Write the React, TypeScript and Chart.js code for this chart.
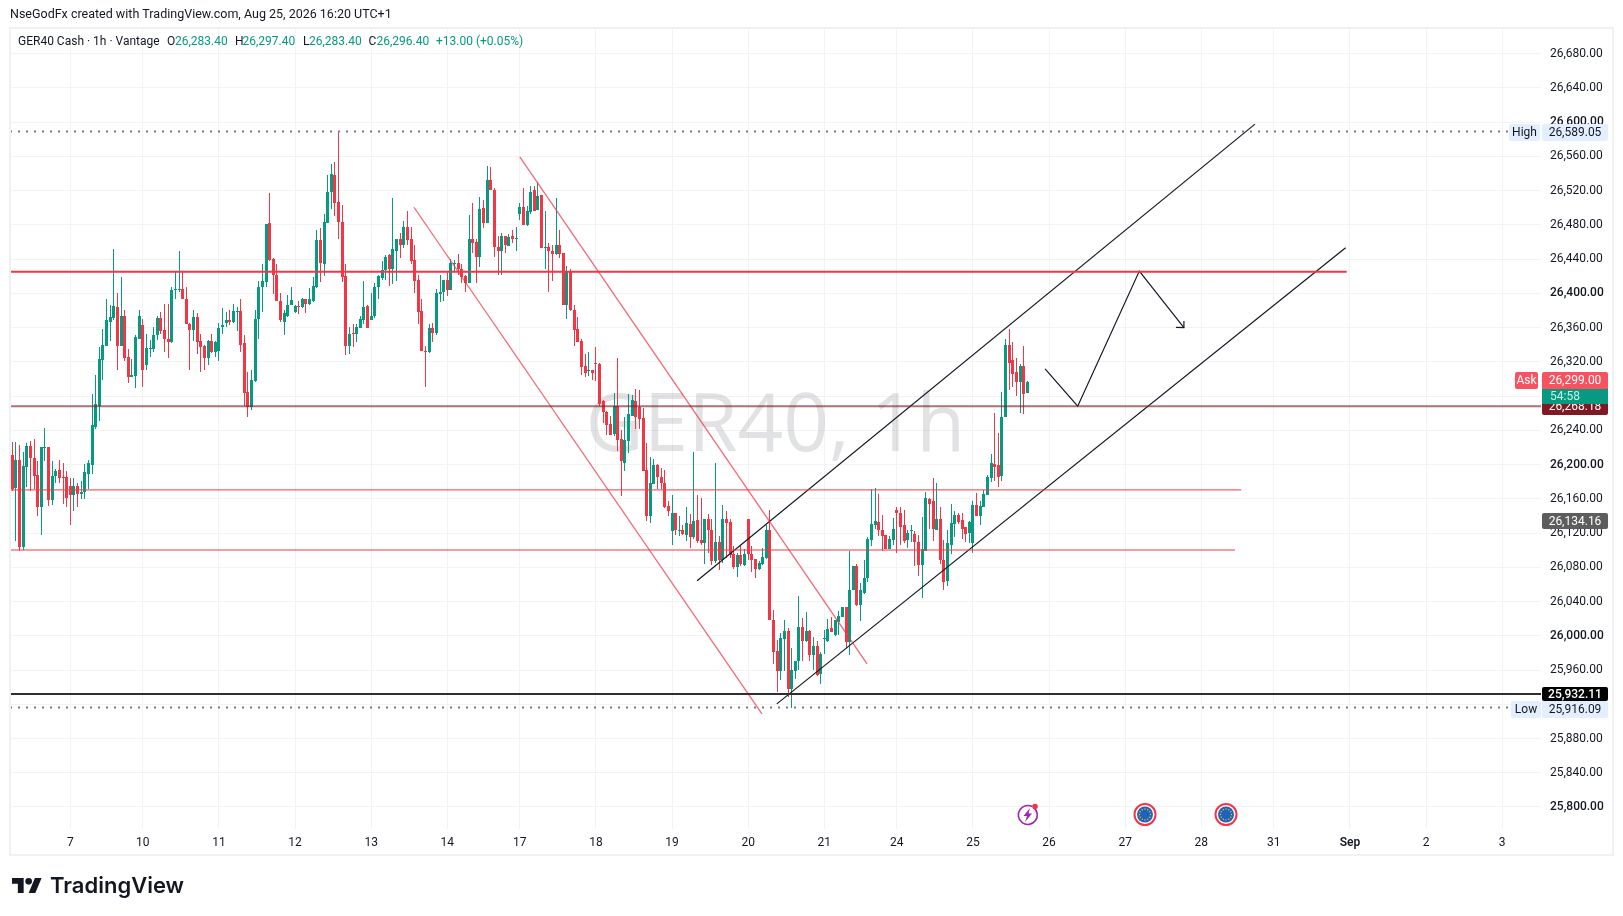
import React, { useEffect, useRef } from "react";
import { Chart, registerables } from "chart.js";

Chart.register(...registerables);

const opens = [
  26211,26173,26205,26104,26197,26222,26208,26188,26150,26219,
  26220,26159,26187,26194,26185,26185,26175,26164,26175,26166,
  26168,26189,26199,26244,26269,26322,26339,26366,26371,26384,
  26339,26374,26326,26302,26304,26347,26363,26316,26335,26335,
  26351,26371,26357,26347,26343,26404,26404,26405,26394,26364,
  26357,26372,26344,26338,26325,26344,26331,26333,26361,26365,
  26369,26366,26378,26379,26342,26285,26267,26298,26370,26407,
  26413,26482,26440,26422,26391,26367,26374,26386,26378,26385,
  26384,26393,26388,26391,26408,26462,26434,26482,26519,26538,
  26507,26483,26420,26339,26353,26352,26360,26369,26385,26369,
  26374,26407,26418,26427,26445,26429,26449,26463,26457,26477,
  26463,26439,26416,26379,26333,26331,26360,26354,26399,26402,
  26416,26404,26434,26435,26429,26420,26412,26464,26460,26443,
  26500,26482,26532,26521,26454,26450,26467,26455,26467,26463,
  26493,26501,26480,26495,26521,26497,26515,26453,26454,26450,
  26446,26457,26447,26387,26425,26380,26358,26344,26315,26309,
  26311,26319,26318,26274,26262,26247,26236,26268,26230,26202,
  26228,26257,26274,26267,26254,26194,26140,26177,26199,26186,
  26179,26152,26122,26143,26122,26124,26118,26131,26115,26135,
  26112,26108,26137,26124,26087,26110,26089,26136,26133,26095,
  26080,26094,26083,26136,26096,26090,26078,26084,26091,26124,
  26019,25982,25959,25996,26006,25938,25959,25970,26010,25994,
  26006,25978,25988,25955,25996,25994,26009,26001,26016,26022,
  26034,25993,26053,26081,26036,26050,26067,26112,26130,26133,
  26124,26118,26101,26112,26147,26144,26129,26112,26122,26119,
  26110,26083,26099,26160,26157,26124,26137,26089,26064,26106,
  26131,26141,26135,26127,26120,26108,26153,26140,26151,26165,
  26184,26201,26199,26187,26255,26340,26322,26308,26297,26315,26283.4,
];
const closes = [
  26172,26205,26104,26198,26222,26208,26187,26150,26220,26220,
  26159,26187,26193,26184,26184,26161,26164,26175,26166,26168,
  26191,26202,26246,26271,26323,26340,26369,26372,26385,26339,
  26374,26325,26302,26305,26349,26374,26311,26336,26336,26351,
  26371,26356,26347,26343,26404,26405,26405,26393,26364,26357,
  26372,26343,26337,26325,26344,26332,26343,26359,26363,26369,
  26367,26379,26379,26340,26284,26267,26299,26370,26408,26414,
  26481,26439,26421,26391,26369,26377,26387,26392,26385,26384,
  26393,26388,26393,26409,26462,26435,26483,26519,26539,26505,
  26483,26419,26338,26353,26352,26361,26370,26384,26360,26374,
  26408,26420,26427,26443,26428,26452,26463,26457,26477,26462,
  26438,26415,26378,26333,26332,26360,26354,26400,26402,26416,
  26404,26435,26435,26428,26419,26412,26463,26459,26443,26498,
  26482,26532,26521,26454,26450,26467,26456,26466,26463,26464,
  26501,26480,26496,26518,26496,26514,26453,26454,26449,26446,
  26457,26446,26387,26425,26380,26357,26343,26314,26307,26310,
  26307,26318,26271,26261,26246,26235,26268,26229,26204,26229,
  26259,26275,26256,26253,26193,26140,26178,26199,26185,26178,
  26150,26146,26143,26123,26123,26119,26132,26115,26134,26111,
  26108,26137,26123,26087,26110,26089,26136,26132,26094,26080,
  26094,26084,26096,26095,26089,26078,26085,26092,26124,26019,
  25981,25959,25998,26006,25938,25960,25971,26010,25994,26006,
  25978,25988,25954,25979,25998,26008,26005,26018,26023,26034,
  25993,26054,26081,26036,26053,26068,26113,26131,26134,26123,
  26116,26101,26113,26125,26143,26127,26111,26120,26123,26109,
  26083,26101,26161,26154,26125,26137,26088,26063,26108,26132,
  26141,26133,26125,26119,26133,26153,26140,26152,26166,26185,
  26202,26197,26186,26256,26340,26319,26306,26297,26315,26282,26296.4,
];
const highs = [
  26226,26226,26223,26215,26225,26228,26230,26204,26220,26243,
  26220,26204,26195,26205,26202,26193,26184,26184,26179,26181,
  26201,26205,26282,26305,26337,26358,26393,26387,26452,26401,
  26419,26381,26335,26323,26351,26380,26370,26352,26345,26361,
  26374,26378,26388,26388,26407,26425,26450,26426,26407,26365,
  26381,26377,26353,26340,26345,26353,26344,26365,26383,26378,
  26380,26388,26384,26394,26351,26308,26311,26380,26414,26434,
  26481,26517,26441,26434,26400,26380,26398,26408,26387,26391,
  26395,26394,26406,26419,26474,26476,26493,26538,26551,26554,
  26589,26503,26434,26361,26364,26364,26374,26414,26386,26401,
  26412,26422,26438,26445,26446,26511,26464,26470,26485,26496,
  26477,26456,26422,26394,26339,26364,26365,26405,26422,26416,
  26426,26440,26439,26446,26434,26422,26491,26505,26463,26512,
  26509,26549,26548,26523,26467,26470,26467,26469,26474,26477,
  26505,26523,26502,26525,26526,26530,26515,26496,26459,26456,
  26511,26474,26447,26432,26429,26386,26372,26347,26329,26332,
  26311,26337,26319,26276,26263,26257,26284,26324,26240,26255,
  26283,26281,26288,26287,26266,26225,26209,26207,26201,26196,
  26194,26158,26165,26143,26140,26129,26150,26142,26215,26164,
  26161,26137,26142,26137,26202,26116,26153,26146,26136,26105,
  26097,26106,26101,26136,26105,26090,26087,26103,26130,26147,
  26030,25995,26003,26019,26009,25986,25971,26046,26021,26028,
  26007,25999,25994,25981,26007,26020,26022,26019,26029,26034,
  26034,26099,26081,26084,26062,26089,26115,26171,26173,26166,
  26141,26118,26117,26138,26150,26151,26147,26123,26129,26122,
  26118,26139,26168,26161,26184,26179,26151,26112,26123,26154,
  26146,26143,26144,26127,26134,26158,26167,26158,26170,26188,
  26212,26260,26237,26285,26347,26358,26343,26324,26318,26339,26297.4,
];
const lows = [
  26169,26111,26099,26100,26174,26169,26172,26140,26118,26204,
  26152,26153,26179,26179,26154,26150,26130,26146,26150,26160,
  26160,26172,26189,26242,26251,26299,26338,26344,26369,26310,
  26338,26321,26295,26302,26289,26347,26291,26310,26326,26332,
  26345,26353,26331,26324,26342,26393,26402,26393,26364,26310,
  26344,26329,26308,26310,26316,26330,26326,26321,26352,26361,
  26363,26365,26356,26332,26268,26256,26264,26297,26347,26378,
  26407,26438,26399,26391,26367,26351,26372,26386,26377,26376,
  26383,26377,26386,26390,26406,26413,26420,26482,26498,26490,
  26463,26413,26328,26329,26337,26343,26359,26364,26360,26369,
  26371,26393,26416,26416,26409,26411,26414,26441,26453,26457,
  26434,26401,26364,26333,26291,26330,26343,26351,26390,26391,
  26397,26404,26425,26422,26412,26402,26412,26447,26412,26431,
  26476,26482,26521,26442,26421,26421,26447,26455,26459,26450,
  26486,26480,26479,26493,26496,26497,26453,26428,26402,26414,
  26445,26441,26387,26370,26379,26338,26343,26305,26302,26303,
  26299,26298,26269,26249,26234,26234,26233,26216,26163,26192,
  26214,26257,26241,26241,26193,26134,26132,26177,26172,26172,
  26149,26140,26106,26118,26116,26118,26111,26102,26113,26108,
  26106,26084,26097,26083,26085,26077,26085,26091,26091,26078,
  26069,26082,26082,26089,26075,26067,26077,26083,26090,26018,
  25967,25934,25948,25959,25929,25916,25950,25960,25971,25993,
  25971,25960,25953,25944,25979,25993,26005,26000,26001,26022,
  25986,25978,26053,26035,26017,26049,26063,26105,26125,26117,
  26099,26101,26101,26106,26097,26106,26108,26103,26109,26082,
  26070,26044,26099,26125,26111,26123,26084,26053,26058,26096,
  26115,26131,26113,26109,26108,26097,26140,26130,26151,26165,
  26180,26181,26174,26181,26255,26287,26291,26280,26260,26259,26283.4,
];

const priceTicks = [
  25800,25840,25880,25920,25960,26000,26040,26080,26120,26160,26200,26240,26280,
  26320,26360,26400,26440,26480,26520,26560,26600,26640,26680,
];
const dayTicks = [16,36,57,78,99,120,140,161,182,203,224,244,265,286,307,328,348,369,390,411];
const dayLabels = ["7","10","11","12","13","14","17","18","19","20","21","24","25","26","27","28","31","Sep","2","3"];

const highPrice = 26589.05;
const lowPrice = 25916.09;
const blackLevel = 25932.11;
const darkRedLevel = 26268.18;
const askPrice = 26299.0;
const greyPrice = 26134.16;
const redLevelTop = 26425.4;
const redLevelMid = 26170.4;
const redLevelLow = 26100.2;

const redChannelA = [[110.8, 26500.6], [206.8, 25908.8]];
const redChannelB = [[140.0, 26559.4], [235.8, 25967.3]];
const blackChannelUp = [[188.9, 26064.3], [342.8, 26597.7]];
const blackChannelLow = [[210.9, 25920.5], [367.8, 26453.3]];
const projection = [[284.9, 26311.9], [293.9, 26268.2], [310.9, 26426.1], [323.2, 26359.9]];
const arrowHead = [[321.0, 26360.2], [323.2, 26359.9], [323.2, 26367.6]];

const UP = "#089981";
const DOWN = "#f23645";
const FONT = "Roboto, 'Noto Sans', sans-serif";
const X_MIN = -0.63;
const X_MAX = 421.7;

const fmt = (v: number) =>
  v.toLocaleString("en-US", { minimumFractionDigits: 2, maximumFractionDigits: 2 });
const pts = (arr: number[][]) => arr.map(([x, y]) => ({ x, y }));
const lineDs = (arr: number[][], color: string, width: number, dash: number[] = []) => ({
  type: "line" as const,
  data: pts(arr),
  borderColor: color,
  borderWidth: width,
  borderDash: dash,
  pointRadius: 0,
  tension: 0,
  fill: false,
  order: 0,
});

const logo = new Path2D("M14 22H7V11H0V4h14v18zM28 22h-8l7.5-18h8L28 22z");

const snapPlugin = {
  id: "snap",
  afterDatasetsUpdate(chart: any) {
    chart.data.datasets.forEach((ds: any, i: number) => {
      if (ds.type === "line") return;
      chart.getDatasetMeta(i).data.forEach((el: any) => {
        el.x = Math.floor(el.x) + 0.5;
        el.y = Math.round(el.y);
        el.base = Math.round(el.base);
        if (el.y === el.base) el.base = el.y + 1;
      });
    });
  },
};

const backdropPlugin = {
  id: "backdrop",
  beforeDraw(chart: any) {
    const { ctx, width, height } = chart;
    ctx.save();
    ctx.fillStyle = "#ffffff";
    ctx.fillRect(0, 0, width, height);
    ctx.restore();
  },
  beforeDatasetsDraw(chart: any) {
    const { ctx, chartArea: a } = chart;
    ctx.save();
    ctx.fillStyle = "rgba(120,123,134,0.22)";
    ctx.font = `400 80px 'Open Sans', sans-serif`;
    ctx.textAlign = "center";
    ctx.textBaseline = "middle";
    ctx.fillText("GER40, 1h", (a.left + a.right) / 2, (a.top + a.bottom) / 2);
    ctx.restore();
  },
};

function box(ctx: any, x: number, y: number, w: number, h: number, fill: string, text: string, color: string, weight = 400, clip = false) {
  ctx.save();
  ctx.beginPath();
  ctx.roundRect(x, y, w, h, 2);
  ctx.fillStyle = fill;
  ctx.fill();
  if (clip) ctx.clip();
  ctx.fillStyle = color;
  ctx.font = `${weight} 12px ${FONT}`;
  ctx.textAlign = "center";
  ctx.textBaseline = "middle";
  ctx.fillText(text, x + w / 2, y + h / 2 + 0.5);
  ctx.restore();
}

function flag(ctx: any, cx: number, cy: number) {
  ctx.save();
  ctx.beginPath();
  ctx.arc(cx, cy, 10.5, 0, Math.PI * 2);
  ctx.strokeStyle = "#f23645";
  ctx.lineWidth = 2;
  ctx.stroke();
  ctx.beginPath();
  ctx.arc(cx, cy, 8, 0, Math.PI * 2);
  ctx.fillStyle = "#1e63b8";
  ctx.fill();
  ctx.fillStyle = "#f2c230";
  for (let k = 0; k < 12; k++) {
    const t = (k / 12) * Math.PI * 2;
    ctx.beginPath();
    ctx.arc(cx + 5.5 * Math.cos(t), cy + 5.5 * Math.sin(t), 0.7, 0, Math.PI * 2);
    ctx.fill();
  }
  ctx.restore();
}

const overlayPlugin = {
  id: "overlay",
  afterDraw(chart: any) {
    const { ctx, scales } = chart;
    const y = (v: number) => Math.round(scales.y.getPixelForValue(v));

    ctx.save();
    ctx.strokeStyle = "#f0f1f3";
    ctx.lineWidth = 2;
    ctx.strokeRect(10, 28, 1603, 827);
    ctx.restore();

    // price labels
    const yHigh = y(highPrice);
    box(ctx, 1509, yHigh - 8, 31, 17, "#e3effd", "High", "#131722");
    box(ctx, 1542, yHigh - 8, 66, 17, "#e3effd", fmt(highPrice), "#131722");
    const yDark = y(darkRedLevel);
    box(ctx, 1542, yDark - 8, 66, 17, "#801922", fmt(darkRedLevel), "#ffffff");
    const yAsk = y(askPrice);
    box(ctx, 1515, yAsk - 8, 23, 17, "#f7525f", "Ask", "#ffffff");
    ctx.save();
    ctx.fillStyle = UP;
    ctx.fillRect(1542, yAsk + 8, 66, 16);
    ctx.fillStyle = "#c8efe3";
    ctx.font = `400 12px ${FONT}`;
    ctx.textBaseline = "middle";
    ctx.fillText("54:58", 1550, yAsk + 16.5);
    ctx.restore();
    box(ctx, 1542, yAsk - 8, 66, 17, "#f7525f", fmt(askPrice), "#ffffff");
    const yGrey = y(greyPrice);
    box(ctx, 1542, yGrey - 8, 66, 16, "#5d5d5d", fmt(greyPrice), "#ffffff");
    const yLow = y(lowPrice);
    box(ctx, 1511, yLow - 7, 30, 17, "#e3effd", "Low", "#131722");
    box(ctx, 1542, yLow - 7, 66, 17, "#e3effd", fmt(lowPrice), "#131722");
    const yBlack = y(blackLevel);
    box(ctx, 1542, yBlack - 7, 66, 14, "#000000", fmt(blackLevel), "#ffffff", 500);

    // header and legend
    ctx.save();
    ctx.textBaseline = "middle";
    ctx.fillStyle = "#131722";
    ctx.font = `400 12.5px ${FONT}`;
    ctx.fillText("NseGodFx created with TradingView.com, Aug 25, 2026 16:20 UTC+1", 10, 15);
    ctx.font = `400 12px ${FONT}`;
    ctx.fillText("GER40 Cash · 1h · Vantage", 18, 42);
    const last = opens.length - 1;
    const legend: [string, number, string][] = [
      ["O", 167, "#131722"], [fmt(opens[last]), 175, UP],
      ["H", 235, "#131722"], [fmt(highs[last]), 242.5, UP],
      ["L", 303, "#131722"], [fmt(lows[last]), 309, UP],
      ["C", 368.6, "#131722"], [fmt(closes[last]), 376.4, UP],
      ["+13.00 (+0.05%)", 436, UP],
    ];
    legend.forEach(([t, x, c]) => {
      ctx.fillStyle = c;
      ctx.fillText(t, x, 42);
    });
    ctx.restore();

    // TradingView mark
    ctx.save();
    ctx.translate(12, 874.7);
    ctx.scale(0.833, 0.833);
    ctx.fillStyle = "#131722";
    ctx.fill(logo);
    ctx.beginPath();
    ctx.arc(20, 8, 4, 0, Math.PI * 2);
    ctx.fill();
    ctx.restore();
    ctx.save();
    ctx.fillStyle = "#131722";
    ctx.font = "600 22px Inter, sans-serif";
    ctx.textBaseline = "alphabetic";
    ctx.fillText("TradingView", 50, 893);
    ctx.restore();

    // event icons
    ctx.save();
    ctx.strokeStyle = "#9c27b0";
    ctx.lineWidth = 1.6;
    ctx.beginPath();
    ctx.arc(1027.8, 815, 9.5, -Math.PI * 0.3, Math.PI * 1.65);
    ctx.stroke();
    ctx.fillStyle = "#9c27b0";
    ctx.beginPath();
    ctx.moveTo(1030, 808);
    ctx.lineTo(1023.5, 816);
    ctx.lineTo(1027, 816);
    ctx.lineTo(1025, 822);
    ctx.lineTo(1032, 813.5);
    ctx.lineTo(1028.5, 813.5);
    ctx.closePath();
    ctx.fill();
    ctx.fillStyle = "#f23645";
    ctx.beginPath();
    ctx.arc(1035, 806.5, 2.8, 0, Math.PI * 2);
    ctx.fill();
    ctx.restore();
    flag(ctx, 1145, 814.5);
    flag(ctx, 1226, 814.5);
  },
};

export default function App() {
  const ref = useRef<HTMLCanvasElement | null>(null);
  useEffect(() => {
    if (!ref.current) return;
    const colorOf = (c: any) =>
      closes[c.dataIndex] >= opens[c.dataIndex] ? UP : DOWN;
    const chart = new Chart(ref.current, {
      type: "bar",
      data: {
        datasets: [
          lineDs([[X_MIN, highPrice], [412.9, highPrice]], "#787b86", 2, [2, 6]),
          lineDs([[X_MIN, lowPrice], [413.4, lowPrice]], "#787b86", 2, [2, 6]),
          lineDs([[X_MIN, redLevelTop], [368.1, redLevelTop]], DOWN, 2),
          lineDs([[X_MIN, redLevelMid], [339, redLevelMid]], DOWN, 1),
          lineDs([[X_MIN, redLevelLow], [337.3, redLevelLow]], DOWN, 1),
          lineDs([[X_MIN, darkRedLevel], [X_MAX, darkRedLevel]], "rgba(128,25,34,0.62)", 2),
          lineDs([[X_MIN, blackLevel], [X_MAX, blackLevel]], "#2f2f2f", 2),
          lineDs(redChannelA, "rgba(242,54,69,0.75)", 1.3),
          lineDs(redChannelB, "rgba(242,54,69,0.75)", 1.3),
          lineDs(blackChannelUp, "#131722", 1.2),
          lineDs(blackChannelLow, "#131722", 1.2),
          lineDs(projection, "#131722", 1.2),
          lineDs(arrowHead, "#131722", 1.2),
          {
            type: "bar",
            order: 1,
            grouped: false,
            barPercentage: 1,
            categoryPercentage: 1,
            maxBarThickness: 3,
            inflateAmount: 0,
            minBarLength: 1,
            backgroundColor: colorOf,
            data: opens.map((o, i) => ({ x: i, y: [o, closes[i]] })),
          },
          {
            type: "bar",
            order: 2,
            grouped: false,
            barPercentage: 1,
            categoryPercentage: 1,
            maxBarThickness: 1,
            inflateAmount: 0,
            backgroundColor: colorOf,
            data: highs.map((h, i) => ({ x: i, y: [lows[i], h] })),
          },
        ] as any,
      },
      options: {
        responsive: false,
        animation: false,
        devicePixelRatio: 1,
        layout: { padding: { left: 10, top: 28, right: 10, bottom: 60 } },
        plugins: { legend: { display: false }, tooltip: { enabled: false }, title: { display: false } },
        scales: {
          x: {
            type: "linear",
            offset: false,
            min: X_MIN,
            max: X_MAX,
            grid: { offset: false, color: "#f3f3f4", lineWidth: 1, drawTicks: false },
            border: { display: false },
            afterBuildTicks: (s: any) => {
              s.ticks = dayTicks.map((value) => ({ value }));
            },
            afterFit: (s: any) => {
              s.height = 27;
            },
            ticks: {
              autoSkip: false,
              maxRotation: 0,
              padding: 7,
              color: "#131722",
              font: (c: any) => ({
                family: FONT,
                size: 12,
                weight: c.tick && dayLabels[dayTicks.indexOf(c.tick.value)] === "Sep" ? "600" : "400",
              }),
              callback: (v: any) => dayLabels[dayTicks.indexOf(Number(v))],
            },
          },
          y: {
            type: "linear",
            position: "right",
            beginAtZero: false,
            min: 25774.3,
            max: 26710,
            grid: { color: "#f3f3f4", lineWidth: 1, drawTicks: false },
            border: { display: false },
            afterBuildTicks: (s: any) => {
              s.ticks = priceTicks.map((value) => ({ value }));
            },
            afterFit: (s: any) => {
              s.width = 72;
            },
            ticks: {
              padding: 9,
              color: "#131722",
              font: (c: any) => ({
                family: FONT,
                size: 12,
                weight: c.tick && c.tick.value % 200 === 0 ? "500" : "400",
              }),
              callback: (v: any) => fmt(Number(v)),
            },
          },
        },
      } as any,
      plugins: [snapPlugin, backdropPlugin, overlayPlugin],
    });
    return () => chart.destroy();
  }, []);
  return (
    <div style={{ position: "fixed", left: 0, top: 0, width: 1623, height: 916, background: "#fff" }}>
      <canvas ref={ref} width={1623} height={916} style={{ display: "block", width: 1623, height: 916 }} />
    </div>
  );
}
